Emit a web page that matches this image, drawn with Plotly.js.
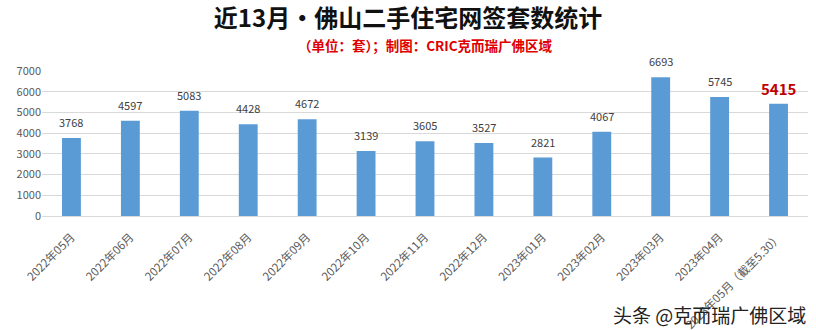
<!DOCTYPE html>
<html><head><meta charset="utf-8">
<script src="https://cdn.plot.ly/plotly-3.0.1.min.js"></script>
<style>body{margin:0;background:#fff}#c{width:816px;height:330px}</style>
</head><body><div id="c"></div>
<script>
const months = ["2022年05月","2022年06月","2022年07月","2022年08月","2022年09月","2022年10月","2022年11月","2022年12月","2023年01月","2023年02月","2023年03月","2023年04月","2023年05月（截至5.30）"];
const values = [3768,4597,5083,4428,4672,3139,3605,3527,2821,4067,6693,5745,5415];
const font = "'Noto Sans CJK SC', 'Microsoft YaHei', sans-serif";
const trace = {
  type:"bar", x: months, y: values, marker:{color:"#5B9BD5"}, width:0.32, hoverinfo:"none"
};
const valueLabels = values.map((v,i)=>{
  const last = i===values.length-1;
  return {x: months[i], y: v, xref:"x", yref:"y", text: last ? "<b>"+v+"</b>" : String(v),
    showarrow:false, yanchor:"bottom", yshift: last ? 3 : 6,
    font:{size: last ? 15 : 11, color: last ? "#C00000" : "#404040", family:font}};
});
const layout = {
  width:816, height:330, margin:{l:42,r:8,t:71,b:114},
  paper_bgcolor:"#fff", plot_bgcolor:"#fff", showlegend:false,
  title:{text:"<b>近13月·佛山二手住宅网签套数统计</b>", x:0.5, xanchor:"center", y:0.945, yanchor:"middle", font:{size:24, color:"#111", family:font}},
  xaxis:{tickangle:-45, tickfont:{size:11.5, color:"#595959", family:font}, showline:false, ticks:"outside", ticklen:9, tickcolor:"rgba(0,0,0,0)", showgrid:false},
  yaxis:{range:[0,7000], dtick:1000, tickfont:{size:11, color:"#595959", family:font}, gridcolor:"#D9D9D9", gridwidth:1, zeroline:true, zerolinecolor:"#D9D9D9", ticks:"", fixedrange:true},
  annotations:[
    {text:"<b>（单位：套）；制图：CRIC克而瑞广佛区域</b>", xref:"paper", yref:"paper", x:0.5, xanchor:"center", y:1.0+ (71-45)/145, yanchor:"middle", showarrow:false, font:{size:13.5, color:"#E00000", family:font}},
    {text:"头条 @克而瑞广佛区域", xref:"paper", yref:"paper", x:1.0, xanchor:"right", y:-(314-216)/145, yanchor:"middle", showarrow:false, font:{size:19, color:"#222", family:font}}
  ].concat(valueLabels)
};
Plotly.newPlot("c",[trace],layout,{displayModeBar:false,staticPlot:true});
</script></body></html>
